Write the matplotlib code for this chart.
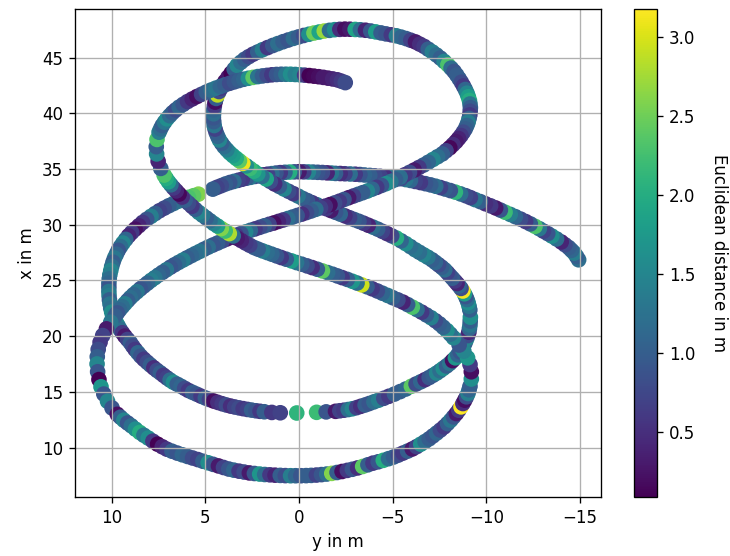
import numpy as np
import matplotlib
matplotlib.use("Agg")
import matplotlib.pyplot as plt

# trajectory pieces: pos_y (horizontal), pos_x (vertical) in m, err = euclidean distance in m

# arc running out to the right end
arc_right_y = [-14.93, -14.82, -14.7, -14.55, -14.4, -14.2, -14.0, -13.75, -13.5, -13.28,
               -13.05, -12.83, -12.6, -12.35, -12.1, -11.83, -11.55, -11.28, -11.0, -10.75,
               -10.5, -10.23, -9.95, -9.68, -9.4, -9.15, -8.9, -8.63, -8.35, -8.08,
               -7.8, -7.55, -7.3, -7.03, -6.75, -6.48, -6.2, -5.95, -5.7, -5.43,
               -5.15, -4.88, -4.6, -4.33, -4.05, -3.78, -3.5, -3.25, -3.0, -2.73,
               -2.45, -2.2, -1.95, -1.73, -1.5, -1.25, -1.0, -0.75, -0.5, -0.25,
               0.0, 0.25, 0.5, 0.75, 1.0, 1.23, 1.45, 1.68, 1.9, 2.13,
               2.35, 2.58, 2.8, 3.03, 3.25, 3.48, 3.7, 3.93, 4.15, 4.38,
               4.6]
arc_right_x = [26.85, 27.15, 27.45, 27.7, 27.95, 28.2, 28.45, 28.72, 28.98, 29.2,
               29.42, 29.64, 29.85, 30.07, 30.28, 30.5, 30.72, 30.92, 31.12, 31.31,
               31.5, 31.69, 31.88, 32.07, 32.25, 32.43, 32.6, 32.76, 32.92, 33.06,
               33.2, 33.33, 33.45, 33.57, 33.68, 33.78, 33.88, 33.97, 34.05, 34.13,
               34.2, 34.25, 34.3, 34.34, 34.38, 34.42, 34.46, 34.5, 34.53, 34.55,
               34.57, 34.59, 34.6, 34.63, 34.65, 34.68, 34.7, 34.72, 34.73, 34.74,
               34.75, 34.74, 34.72, 34.7, 34.67, 34.63, 34.58, 34.53, 34.47, 34.4,
               34.33, 34.25, 34.17, 34.08, 33.98, 33.88, 33.78, 33.65, 33.5, 33.35,
               33.19]
arc_right_err = [1.2, 1.0, 1.4, 1.1, 1.0, 0.8, 0.4, 1.2, 1.6, 0.9,
                 0.7, 1.3, 2.3, 1.0, 0.6, 0.8, 1.1, 1.4, 2.2, 0.9,
                 0.3, 0.6, 0.5, 1.0, 1.3, 0.7, 0.8, 1.2, 2.1, 0.9,
                 1.0, 0.7, 1.2, 1.0, 0.9, 0.6, 0.7, 1.1, 1.3, 0.8,
                 0.9, 1.2, 0.5, 0.7, 0.8, 1.0, 1.1, 0.9, 0.6, 1.2,
                 0.7, 0.5, 1.0, 1.3, 0.4, 0.8, 0.9, 1.1, 1.5, 0.7,
                 0.3, 0.9, 2.0, 1.1, 0.6, 0.9, 1.2, 0.7, 0.5, 1.0,
                 0.8, 1.3, 1.0, 0.6, 0.7, 1.2, 0.9, 1.0, 0.8, 0.7,
                 1.0]

# left arc down to the left crossing
arc_left_y = [5.37, 5.63, 5.9, 6.18, 6.45, 6.7, 6.95, 7.2, 7.45, 7.68,
              7.9, 8.13, 8.35, 8.55, 8.75, 8.93, 9.1, 9.25, 9.4, 9.53,
              9.65, 9.75, 9.85, 9.93, 10.0, 10.05, 10.1, 10.13, 10.15, 10.15,
              10.15, 10.14, 10.12, 10.09, 10.05, 10.0, 9.95]
arc_left_x = [32.74, 32.6, 32.45, 32.28, 32.1, 31.9, 31.7, 31.48, 31.25, 31.0,
              30.75, 30.48, 30.2, 29.9, 29.6, 29.3, 29.0, 28.68, 28.35, 28.03,
              27.7, 27.35, 27.0, 26.63, 26.25, 25.88, 25.5, 25.13, 24.75, 24.38,
              24.0, 23.63, 23.25, 22.88, 22.5, 22.15, 21.8]
arc_left_err = [2.6, 2.4, 2.3, 1.8, 1.5, 1.2, 1.0, 0.8, 0.7, 1.0,
                1.4, 0.9, 0.6, 0.4, 0.2, 0.6, 0.4, 1.1, 1.5, 1.2,
                0.9, 1.1, 1.3, 1.0, 1.2, 1.5, 1.4, 1.2, 1.1, 0.9,
                1.3, 1.4, 1.0, 1.3, 1.2, 1.6, 1.5]

# middle loop, lower half
mid_y = [9.75, 9.65, 9.55, 9.43, 9.3, 9.15, 9.0, 8.88, 8.75, 8.6,
         8.45, 8.28, 8.1, 7.93, 7.75, 7.58, 7.4, 7.23, 7.05, 6.88,
         6.7, 6.5, 6.3, 6.1, 5.9, 5.68, 5.45, 5.23, 5.0, 4.78,
         4.55, 4.33, 4.1, 3.88, 3.65, 3.43, 3.2, 2.98, 2.75, 2.53,
         2.3, 2.08, 1.85, 1.45, 1.0, 0.12, -0.94, -1.45, -1.95, -2.18,
         -2.4, -2.63, -2.85, -3.08, -3.3, -3.53, -3.75, -4.0, -4.25, -4.53,
         -4.8, -5.1, -5.4, -5.7, -6.0, -6.25, -6.5, -6.73, -6.95, -7.15,
         -7.35, -7.53, -7.7, -7.88, -8.05, -8.2, -8.35, -8.48, -8.6, -8.7,
         -8.8, -8.88, -8.95, -9.01, -9.07, -9.1, -9.13, -9.14, -9.15]
mid_x = [21.2, 20.9, 20.6, 20.3, 20.0, 19.7, 19.4, 19.1, 18.8, 18.5,
         18.2, 17.92, 17.65, 17.4, 17.15, 16.92, 16.7, 16.48, 16.25, 16.05,
         15.85, 15.68, 15.5, 15.31, 15.12, 14.95, 14.78, 14.61, 14.45, 14.31,
         14.17, 14.05, 13.93, 13.82, 13.72, 13.64, 13.56, 13.49, 13.42, 13.36,
         13.3, 13.25, 13.21, 13.15, 13.12, 13.1, 13.16, 13.2, 13.25, 13.3,
         13.35, 13.41, 13.48, 13.58, 13.7, 13.82, 13.95, 14.1, 14.25, 14.42,
         14.6, 14.8, 15.02, 15.25, 15.5, 15.7, 15.9, 16.09, 16.28, 16.48,
         16.68, 16.89, 17.1, 17.32, 17.55, 17.8, 18.05, 18.32, 18.6, 18.88,
         19.15, 19.45, 19.75, 20.05, 20.35, 20.68, 21.0, 21.35, 21.7]
mid_err = [1.8, 1.4, 1.2, 0.6, 0.3, 0.7, 1.0, 0.8, 0.6, 1.1,
           0.9, 0.6, 0.8, 1.0, 0.5, 0.8, 1.0, 0.6, 0.7, 1.2,
           1.6, 1.0, 1.1, 0.8, 0.6, 1.0, 0.9, 0.6, 1.0, 0.7,
           0.2, 0.5, 0.6, 0.8, 0.5, 0.7, 0.8, 0.6, 0.7, 1.0,
           0.9, 0.6, 1.0, 0.6, 0.7, 2.1, 2.2, 0.9, 0.3, 0.7,
           0.6, 1.2, 1.5, 0.7, 0.5, 1.0, 0.9, 1.2, 1.4, 0.8,
           0.6, 1.0, 1.0, 1.1, 2.4, 0.8, 1.1, 0.5, 0.9, 1.0,
           1.5, 1.2, 1.6, 1.0, 1.3, 0.2, 1.7, 1.1, 0.9, 1.3,
           1.2, 1.0, 1.5, 0.8, 0.4, 1.1, 1.3, 1.0, 1.6]

# right side of middle loop going up
rise_y = [-9.12, -9.08, -9.03, -8.97, -8.9, -8.83, -8.75, -8.65, -8.55, -8.44,
          -8.32, -8.19, -8.05, -7.92, -7.78, -7.62, -7.45, -7.28, -7.1, -6.88,
          -6.65, -6.43, -6.2]
rise_x = [22.35, 22.68, 23.0, 23.28, 23.55, 23.8, 24.05, 24.28, 24.5, 24.72,
          24.95, 25.2, 25.45, 25.7, 25.95, 26.18, 26.4, 26.62, 26.85, 27.08,
          27.3, 27.52, 27.75]
rise_err = [1.0, 1.3, 1.6, 1.2, 0.9, 1.8, 3.15, 0.8, 1.1, 0.4,
            0.6, 1.0, 0.9, 0.7, 1.2, 1.0, 0.8, 1.1, 1.0, 1.3,
            1.5, 1.2, 1.3]

# diagonal up to the top loop, left half of top loop
diag_y = [-5.95, -5.7, -5.45, -5.2, -4.95, -4.7, -4.45, -4.2, -3.95, -3.7,
          -3.45, -3.2, -2.95, -2.7, -2.45, -2.2, -1.95, -1.7, -1.45, -1.2,
          -0.95, -0.7, -0.45, -0.2, 0.05, 0.3, 0.55, 0.8, 1.05, 1.3,
          1.53, 1.75, 1.98, 2.2, 2.41, 2.62, 2.81, 3.0, 3.18, 3.35,
          3.53, 3.7, 3.85, 4.0, 4.13, 4.25, 4.34, 4.42, 4.48, 4.53,
          4.55, 4.57, 4.56, 4.55, 4.52, 4.48, 4.42, 4.35, 4.27, 4.18,
          4.07, 3.95, 3.79, 3.62, 3.46, 3.3, 3.1, 2.9, 2.68, 2.45,
          2.2, 1.95, 1.68, 1.4, 1.13, 0.85, 0.58, 0.3, 0.03, -0.25,
          -0.53, -0.8, -1.08, -1.35, -1.63, -1.9, -2.18, -2.45]
diag_x = [28.03, 28.3, 28.55, 28.8, 29.0, 29.2, 29.4, 29.6, 29.78, 29.95,
          30.13, 30.3, 30.46, 30.62, 30.79, 30.95, 31.11, 31.27, 31.44, 31.6,
          31.79, 31.97, 32.16, 32.35, 32.57, 32.78, 32.99, 33.2, 33.43, 33.65,
          33.88, 34.1, 34.33, 34.55, 34.8, 35.05, 35.28, 35.5, 35.73, 35.95,
          36.2, 36.45, 36.72, 37.0, 37.3, 37.6, 37.93, 38.25, 38.58, 38.9,
          39.25, 39.6, 39.95, 40.3, 40.65, 41.0, 41.33, 41.65, 41.95, 42.25,
          42.55, 42.85, 43.23, 43.6, 43.95, 44.3, 44.58, 44.85, 45.08, 45.3,
          45.5, 45.7, 45.89, 46.08, 46.25, 46.42, 46.57, 46.72, 46.85, 46.98,
          47.09, 47.2, 47.29, 47.38, 47.44, 47.5, 47.53, 47.55]
diag_err = [1.2, 1.6, 1.1, 2.0, 0.8, 0.5, 0.7, 1.0, 1.2, 0.4,
            0.6, 0.9, 1.0, 0.7, 0.5, 1.1, 0.9, 0.3, 0.6, 1.0,
            1.2, 0.6, 0.9, 1.0, 1.3, 0.6, 0.8, 1.5, 1.0, 0.5,
            0.8, 1.9, 1.2, 1.7, 2.0, 2.2, 1.6, 3.1, 2.4, 2.0,
            1.8, 1.7, 1.4, 1.2, 1.0, 1.5, 1.1, 1.0, 0.7, 1.3,
            1.0, 0.9, 1.2, 1.1, 0.6, 0.2, 1.0, 2.9, 0.8, 0.6,
            0.4, 0.2, 0.3, 0.1, 1.0, 1.5, 1.2, 1.0, 0.8, 0.6,
            1.0, 1.4, 0.6, 0.9, 1.2, 1.0, 0.9, 1.2, 1.0, 0.8,
            1.6, 2.5, 1.9, 2.7, 1.2, 1.6, 0.5, 0.2]

# right half of top loop and the long way down to the left crossing
top_y = [-2.72, -3.0, -3.28, -3.55, -3.83, -4.1, -4.38, -4.65, -4.93, -5.2,
         -5.46, -5.72, -5.97, -6.22, -6.45, -6.68, -6.9, -7.12, -7.34, -7.55,
         -7.75, -7.95, -8.12, -8.28, -8.42, -8.55, -8.67, -8.78, -8.88, -8.97,
         -9.04, -9.1, -9.13, -9.15, -9.14, -9.12, -9.08, -9.03, -8.96, -8.88,
         -8.77, -8.65, -8.52, -8.38, -8.22, -8.05, -7.85, -7.65, -7.4, -7.15,
         -6.9, -6.65, -6.4, -6.15, -5.9, -5.65, -5.4, -5.15, -4.9, -4.65,
         -4.4, -4.15, -3.9, -3.65, -3.4, -3.15, -2.9, -2.65, -2.4, -2.15,
         -1.9, -1.65, -1.4, -1.15, -0.9, -0.65, -0.4, -0.15, 0.1, 0.35,
         0.6, 0.85, 1.1, 1.35, 1.6, 1.85, 2.1, 2.35, 2.6, 2.85,
         3.1, 3.35, 3.6, 3.85, 4.1, 4.35, 4.6, 4.85, 5.08, 5.3,
         5.53, 5.75, 5.98, 6.2, 6.43, 6.65, 6.87, 7.08, 7.29, 7.5,
         7.7, 7.9, 8.09, 8.28, 8.47, 8.65, 8.83, 9.0, 9.15, 9.3,
         9.44, 9.58, 9.7, 9.82]
top_x = [47.54, 47.52, 47.49, 47.45, 47.38, 47.3, 47.21, 47.12, 47.04, 46.95,
         46.83, 46.7, 46.55, 46.4, 46.2, 46.0, 45.75, 45.5, 45.23, 44.95,
         44.65, 44.35, 44.05, 43.75, 43.43, 43.1, 42.78, 42.45, 42.13, 41.8,
         41.48, 41.15, 40.83, 40.5, 40.18, 39.85, 39.53, 39.2, 38.9, 38.6,
         38.3, 38.0, 37.73, 37.45, 37.18, 36.9, 36.63, 36.35, 36.1, 35.85,
         35.6, 35.35, 35.13, 34.9, 34.69, 34.48, 34.27, 34.05, 33.87, 33.68,
         33.52, 33.35, 33.19, 33.02, 32.87, 32.72, 32.57, 32.42, 32.26, 32.1,
         31.95, 31.8, 31.66, 31.52, 31.38, 31.23, 31.09, 30.95, 30.82, 30.68,
         30.55, 30.42, 30.29, 30.15, 30.03, 29.9, 29.76, 29.62, 29.49, 29.35,
         29.2, 29.05, 28.89, 28.72, 28.54, 28.35, 28.17, 27.98, 27.79, 27.6,
         27.41, 27.22, 27.02, 26.82, 26.61, 26.4, 26.18, 25.95, 25.72, 25.48,
         25.24, 25.0, 24.75, 24.5, 24.24, 23.98, 23.72, 23.45, 23.18, 22.9,
         22.63, 22.35, 22.08, 21.8]
top_err = [0.3, 1.9, 1.2, 0.4, 0.9, 1.8, 1.0, 0.9, 0.6, 1.4,
           1.1, 1.0, 0.7, 0.3, 0.5, 0.6, 1.0, 1.4, 1.2, 1.0,
           1.5, 2.3, 1.2, 0.9, 1.0, 1.0, 0.8, 0.6, 1.1, 1.5,
           1.8, 2.0, 1.3, 1.0, 0.8, 0.6, 1.0, 1.4, 1.1, 1.0,
           0.8, 0.6, 0.4, 0.3, 0.5, 0.15, 0.7, 1.0, 1.2, 1.5,
           1.1, 1.0, 0.6, 0.3, 0.8, 0.6, 1.2, 1.0, 1.3, 1.6,
           0.9, 0.6, 1.1, 1.5, 1.0, 1.0, 0.7, 0.3, 0.9, 0.6,
           0.8, 0.2, 0.5, 0.7, 1.2, 1.0, 0.8, 0.5, 0.9, 1.0,
           1.2, 0.6, 0.4, 0.2, 0.7, 1.0, 0.8, 0.6, 1.1, 1.5,
           0.9, 0.6, 0.4, 0.3, 0.8, 1.0, 0.9, 1.2, 1.0, 1.3,
           1.2, 1.1, 1.0, 1.4, 1.2, 1.0, 0.9, 1.3, 1.0, 1.1,
           1.3, 1.4, 1.1, 1.0, 0.9, 1.3, 1.1, 1.2, 1.0, 1.4,
           1.2, 1.1, 0.9, 1.0]

# bottom loop
bottom_y = [10.05, 10.28, 10.48, 10.62, 10.72, 10.77, 10.78, 10.75, 10.68, 10.57,
            10.42, 10.22, 9.98, 9.7, 9.53, 9.35, 9.15, 8.95, 8.73, 8.5,
            8.28, 8.05, 7.8, 7.55, 7.3, 7.05, 6.78, 6.5, 6.23, 5.95,
            5.68, 5.4, 5.13, 4.85, 4.58, 4.3, 4.03, 3.75, 3.48, 3.2,
            2.93, 2.65, 2.38, 2.1, 1.83, 1.55, 1.28, 1.0, 0.73, 0.45,
            0.18, -0.1, -0.38, -0.65, -0.93, -1.2, -1.48, -1.75, -2.03, -2.3,
            -2.58, -2.85, -3.13, -3.4, -3.68, -3.95, -4.23, -4.5, -4.78, -5.05,
            -5.3, -5.55, -5.8, -6.05, -6.28, -6.5, -6.73, -6.95, -7.15, -7.35,
            -7.55, -7.75, -7.93, -8.1, -8.25, -8.4, -8.53, -8.65, -8.75, -8.85,
            -8.94, -9.02, -9.08, -9.13, -9.2, -9.2, -9.13, -9.0, -8.8, -8.55]
bottom_x = [21.25, 20.65, 20.05, 19.45, 18.8, 18.15, 17.5, 16.8, 16.1, 15.45,
            14.8, 14.15, 13.55, 12.98, 12.72, 12.45, 12.2, 11.95, 11.65, 11.35,
            11.1, 10.85, 10.57, 10.3, 10.07, 9.85, 9.67, 9.5, 9.35, 9.2,
            9.06, 8.92, 8.77, 8.63, 8.49, 8.35, 8.21, 8.07, 7.97, 7.88,
            7.8, 7.72, 7.67, 7.62, 7.58, 7.55, 7.52, 7.5, 7.48, 7.47,
            7.47, 7.47, 7.48, 7.5, 7.53, 7.57, 7.62, 7.68, 7.76, 7.85,
            7.95, 8.05, 8.17, 8.3, 8.45, 8.6, 8.72, 8.85, 9.0, 9.15,
            9.32, 9.5, 9.68, 9.87, 10.08, 10.3, 10.54, 10.78, 11.04, 11.3,
            11.57, 11.85, 12.15, 12.45, 12.75, 13.05, 13.35, 13.65, 13.95, 14.25,
            14.55, 14.85, 15.18, 15.5, 16.15, 16.8, 17.45, 18.05, 18.65, 19.2]
bottom_err = [1.3, 0.3, 0.7, 0.6, 0.8, 1.0, 1.5, 0.9, 0.1, 1.7,
              0.9, 1.5, 0.9, 0.2, 1.0, 1.5, 0.9, 1.2, 1.6, 2.0,
              1.3, 1.6, 0.6, 0.1, 0.4, 0.6, 1.0, 0.9, 1.1, 1.0,
              0.8, 0.7, 1.0, 1.6, 0.9, 0.3, 0.7, 0.9, 1.1, 0.6,
              0.8, 0.3, 0.9, 1.7, 1.2, 0.6, 0.4, 1.0, 0.8, 1.4,
              1.1, 0.9, 1.0, 1.0, 0.7, 0.9, 1.2, 2.6, 1.0, 0.2,
              0.6, 0.9, 0.5, 2.4, 1.0, 0.6, 0.9, 2.0, 1.2, 1.0,
              0.8, 0.6, 1.0, 0.3, 0.7, 1.6, 1.2, 1.0, 0.9, 1.1,
              0.8, 0.6, 1.0, 1.3, 0.9, 0.3, 0.6, 3.18, 0.5, 0.2,
              0.8, 1.4, 1.1, 1.0, 1.6, 0.2, 0.6, 1.7, 1.5, 0.9]

# diagonal back up, left loop and inner arc to the end
inner_y = [-8.25, -8.08, -7.9, -7.7, -7.5, -7.28, -7.05, -6.8, -6.55, -6.3,
           -6.05, -5.8, -5.55, -5.28, -5.0, -4.73, -4.45, -4.18, -3.9, -3.63,
           -3.35, -3.1, -2.85, -2.58, -2.3, -2.05, -1.8, -1.53, -1.25, -0.98,
           -0.7, -0.43, -0.15, 0.13, 0.4, 0.68, 0.95, 1.2, 1.45, 1.7,
           1.95, 2.18, 2.4, 2.63, 2.85, 3.08, 3.3, 3.51, 3.72, 3.94,
           4.15, 4.35, 4.55, 4.75, 4.95, 5.15, 5.35, 5.54, 5.72, 5.9,
           6.08, 6.24, 6.4, 6.55, 6.7, 6.84, 6.97, 7.09, 7.2, 7.38,
           7.52, 7.6, 7.62, 7.58, 7.47, 7.39, 7.3, 7.18, 7.05, 6.9,
           6.75, 6.58, 6.4, 6.18, 5.95, 5.7, 5.45, 5.2, 4.95, 4.7,
           4.45, 4.2, 3.95, 3.7, 3.45, 3.2, 2.95, 2.7, 2.45, 2.2,
           1.95, 1.7, 1.45, 1.2, 0.95, 0.7, 0.45, 0.2, -0.05, -0.3,
           -0.55, -0.8, -1.05, -1.3, -1.55, -1.8, -2.05, -2.26, -2.47]
inner_x = [19.85, 20.18, 20.5, 20.8, 21.1, 21.38, 21.65, 21.9, 22.15, 22.38,
           22.6, 22.83, 23.05, 23.25, 23.45, 23.65, 23.85, 24.05, 24.25, 24.43,
           24.6, 24.76, 24.92, 25.09, 25.25, 25.4, 25.55, 25.7, 25.85, 26.0,
           26.15, 26.3, 26.45, 26.6, 26.75, 26.9, 27.05, 27.2, 27.35, 27.5,
           27.65, 27.8, 27.95, 28.15, 28.35, 28.57, 28.78, 28.99, 29.2, 29.43,
           29.65, 29.88, 30.1, 30.35, 30.6, 30.85, 31.1, 31.38, 31.65, 31.93,
           32.2, 32.48, 32.75, 33.03, 33.3, 33.58, 33.85, 34.15, 34.45, 35.05,
           35.7, 36.35, 37.0, 37.65, 38.3, 38.6, 38.9, 39.2, 39.5, 39.78,
           40.05, 40.3, 40.55, 40.8, 41.05, 41.28, 41.5, 41.7, 41.9, 42.08,
           42.25, 42.4, 42.55, 42.69, 42.82, 42.94, 43.05, 43.14, 43.22, 43.29,
           43.35, 43.4, 43.45, 43.48, 43.5, 43.5, 43.5, 43.48, 43.45, 43.42,
           43.38, 43.33, 43.28, 43.22, 43.15, 43.08, 43.0, 42.88, 42.75]
inner_err = [1.5, 1.2, 1.6, 1.1, 1.0, 0.8, 1.4, 1.0, 0.6, 1.2,
             2.3, 1.0, 0.4, 0.8, 1.0, 1.3, 1.1, 0.8, 0.6, 1.0,
             2.95, 1.2, 1.7, 1.0, 0.6, 0.9, 1.0, 1.2, 2.4, 1.0,
             0.5, 0.8, 1.0, 1.3, 1.8, 1.0, 0.6, 0.9, 1.1, 1.2,
             1.4, 1.0, 1.0, 0.7, 0.6, 0.4, 0.3, 1.2, 2.8, 2.2,
             2.6, 1.8, 1.5, 1.2, 1.0, 1.3, 1.5, 1.0, 0.6, 0.8,
             1.0, 0.5, 0.15, 0.4, 0.6, 1.2, 1.8, 2.0, 2.3, 1.0,
             0.4, 1.5, 1.0, 2.3, 1.4, 1.2, 1.0, 1.3, 1.6, 1.2,
             1.0, 0.8, 1.1, 0.9, 0.6, 0.4, 0.2, 0.7, 1.0, 1.2,
             1.3, 1.1, 1.0, 0.8, 0.9, 1.0, 1.1, 1.6, 2.4, 1.3,
             1.0, 0.8, 0.6, 0.9, 1.0, 1.3, 1.6, 1.4, 1.5, 0.6,
             0.09, 0.15, 0.2, 0.3, 0.3, 0.4, 0.5, 0.6, 0.8]

pos_y = np.concatenate([arc_right_y, arc_left_y, mid_y, rise_y, diag_y, top_y, bottom_y, inner_y])
pos_x = np.concatenate([arc_right_x, arc_left_x, mid_x, rise_x, diag_x, top_x, bottom_x, inner_x])
err = np.concatenate([arc_right_err, arc_left_err, mid_err, rise_err, diag_err, top_err, bottom_err, inner_err])

fig = plt.figure(figsize=(730 / 120, 556 / 120), dpi=120)
ax = fig.add_axes([0.1027, 0.1061, 0.7205, 0.8786])
sc = ax.scatter(pos_y, pos_x, c=err, cmap="viridis", s=70)
ax.set_xlim(11.96, -16.12)
ax.set_ylim(5.56, 49.4)
ax.set_xlabel("y in m")
ax.set_ylabel("x in m")
ax.grid()

cax = fig.add_axes([0.8685, 0.1061, 0.0315, 0.8786])
cb = fig.colorbar(sc, cax=cax)
cb.set_label("Euclidean distance in m", rotation=270, labelpad=20)

fig.savefig("out.png")
